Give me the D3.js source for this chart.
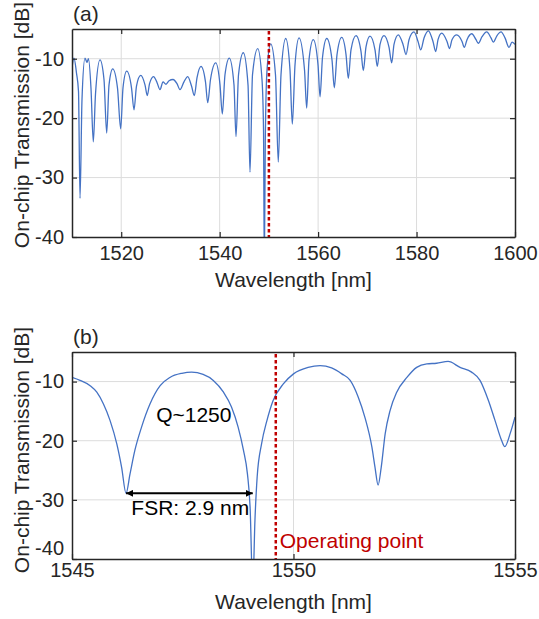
<!DOCTYPE html>
<html>
<head>
<meta charset="utf-8">
<script src="https://cdn.jsdelivr.net/npm/d3@7"></script>
<style>
    body { margin: 0; background: #ffffff; }
    text { font-family: 'Liberation Sans', Arial, Helvetica, sans-serif; }
</style>
</head>
<body>
<div id="container"></div>
<script>
// ---- panel (a): broadband spectrum ----
const wlA = [1510.00, 1510.41, 1510.91, 1511.32, 1511.63, 1512.03, 1512.64, 1513.05, 1513.35, 1513.86,
    1514.33, 1514.77, 1515.69, 1516.50, 1517.05, 1517.52, 1518.27, 1519.24, 1519.89, 1520.36,
    1521.11, 1522.09, 1522.60, 1523.10, 1523.96, 1524.83, 1525.30, 1525.75, 1526.56, 1527.27,
    1527.88, 1528.49, 1529.10, 1529.71, 1530.52, 1531.33, 1531.94, 1532.75, 1533.51, 1534.28,
    1534.85, 1535.40, 1536.21, 1537.12, 1537.57, 1538.14, 1539.20, 1540.07, 1540.54, 1541.08,
    1541.96, 1542.91, 1543.32, 1543.83, 1544.80, 1545.76, 1546.16, 1546.67, 1547.73, 1548.60,
    1548.91, 1549.07, 1549.27, 1549.62, 1550.37, 1551.34, 1551.91, 1552.46, 1553.42, 1554.29,
    1554.76, 1555.31, 1556.12, 1557.24, 1557.68, 1558.15, 1559.02, 1559.98, 1560.39, 1560.89,
    1561.75, 1562.82, 1563.29, 1563.84, 1564.80, 1565.67, 1566.14, 1566.68, 1567.70, 1568.72,
    1569.18, 1569.73, 1570.54, 1571.56, 1572.03, 1572.58, 1573.39, 1574.41, 1574.95, 1575.42,
    1576.29, 1577.25, 1577.86, 1578.47, 1579.48, 1580.30, 1580.85, 1581.52, 1582.39, 1583.34,
    1583.89, 1584.36, 1585.11, 1586.19, 1586.70, 1587.20, 1588.16, 1589.24, 1589.70, 1590.25,
    1591.21, 1592.08, 1592.55, 1593.30, 1594.25, 1595.13, 1595.60, 1596.35, 1597.16, 1597.97,
    1598.79, 1599.40, 1600.00];
const tA = [-11.5, -9.9, -12.4, -15.5, -33.5, -16.9, -9.9, -10.6, -10.0, -15.0,
    -24.0, -16.0, -10.2, -13.5, -22.5, -14.4, -11.7, -14.9, -21.8, -14.9,
    -12.1, -14.9, -18.6, -14.6, -12.8, -14.4, -16.2, -14.2, -13.0, -14.0,
    -15.2, -13.9, -14.3, -13.7, -13.5, -14.2, -15.2, -13.9, -13.0, -14.6,
    -16.2, -13.2, -11.3, -13.9, -17.4, -13.5, -10.7, -14.4, -19.3, -12.7,
    -9.9, -14.4, -23.1, -12.7, -9.0, -14.4, -29.1, -12.7, -8.3, -13.5,
    -22.0, -45.0, -23.7, -11.9, -7.5, -12.7, -27.4, -12.7, -6.6, -11.9,
    -21.0, -11.0, -6.5, -11.9, -18.3, -10.2, -6.8, -11.0, -16.4, -9.8,
    -6.6, -10.2, -14.9, -9.3, -6.4, -9.3, -13.3, -8.5, -6.1, -8.8,
    -12.0, -8.0, -6.2, -8.5, -11.3, -7.6, -6.1, -8.1, -10.7, -7.6,
    -6.0, -7.6, -9.3, -6.8, -5.5, -7.1, -8.5, -6.5, -5.3, -7.1,
    -8.8, -6.8, -5.7, -7.1, -8.3, -6.8, -6.0, -7.1, -8.1, -6.8,
    -5.8, -6.8, -7.4, -6.3, -5.5, -6.5, -7.2, -6.1, -5.5, -6.5,
    -8.1, -7.2, -7.6];

// ---- panel (b): zoom around the operating point ----
const wlB = [1545.00, 1545.18, 1545.41, 1545.56, 1545.71, 1545.86, 1546.01, 1546.12, 1546.22, 1546.31,
    1546.42, 1546.57, 1546.76, 1546.99, 1547.21, 1547.48, 1547.70, 1547.96, 1548.19, 1548.42,
    1548.60, 1548.75, 1548.87, 1548.96, 1549.02, 1549.08, 1549.13, 1549.18, 1549.28, 1549.40,
    1549.54, 1549.77, 1550.00, 1550.33, 1550.60, 1550.86, 1551.09, 1551.28, 1551.46, 1551.61,
    1551.77, 1551.84, 1551.91, 1551.98, 1552.07, 1552.18, 1552.33, 1552.56, 1552.78, 1553.01,
    1553.23, 1553.49, 1553.76, 1554.02, 1554.21, 1554.40, 1554.55, 1554.70, 1554.77, 1554.89,
    1555.00];
const tB = [-9.3, -9.8, -10.7, -11.8, -13.8, -16.6, -20.5, -24.5, -28.9, -25.6,
    -21.6, -17.7, -13.8, -10.7, -9.3, -8.6, -8.4, -8.8, -9.8, -11.8,
    -14.3, -17.7, -21.6, -25.6, -31.2, -45.0, -33.4, -26.1, -20.5, -16.6,
    -13.2, -10.4, -8.7, -7.6, -7.3, -7.7, -8.7, -9.8, -12.6, -16.0,
    -21.1, -24.5, -27.5, -24.5, -18.8, -14.9, -11.8, -9.3, -7.6, -7.0,
    -6.9, -6.6, -7.6, -8.4, -9.8, -13.2, -16.6, -20.0, -21.0, -18.8,
    -16.0];

const yTicks = [-40, -30, -20, -10];
const xTicksA = [1520, 1540, 1560, 1580, 1600];
const xTicksB = [1545, 1550, 1555];
const opA = 1550;      // operating point, panel (a)
const opB = 1549.6;    // operating point, panel (b)
const fsrStart = 1546.22, fsrEnd = 1549.08, fsrLevel = -28.9;

const W = 539, H = 619;
const svg = d3.select('#container')
    .append('svg')
    .attr('width', W)
    .attr('height', H)
    .style('background-color', '#ffffff');

const defs = svg.append('defs');
['start', 'end'].forEach(kind => {
    defs.append('marker')
        .attr('id', 'arrow-' + kind)
        .attr('viewBox', '0 0 10 10')
        .attr('refX', kind === 'end' ? 10 : 0)
        .attr('refY', 5)
        .attr('markerWidth', 7)
        .attr('markerHeight', 7)
        .attr('markerUnits', 'userSpaceOnUse')
        .attr('orient', 'auto')
        .append('path')
        .attr('d', kind === 'end' ? 'M0,0 L10,5 L0,10 z' : 'M10,0 L0,5 L10,10 z')
        .attr('fill', '#000000');
});

const textColor = '#262626';
const lineColor = '#4472c4';
const opColor = '#c00000';

function drawPanel(p) {
    const x = d3.scaleLinear().domain(p.xDomain).range([p.left, p.right]);
    const y = d3.scaleLinear().domain([-40, -5]).range([p.bottom, p.top]);
    const g = svg.append('g');

    defs.append('clipPath').attr('id', 'clip-' + p.id)
        .append('rect')
        .attr('x', p.left).attr('y', p.top)
        .attr('width', p.right - p.left).attr('height', p.bottom - p.top);

    // grid
    g.selectAll('.gx').data(p.xTicks.filter(t => t !== p.xDomain[0] && t !== p.xDomain[1]))
        .join('line')
        .attr('x1', d => x(d)).attr('x2', d => x(d))
        .attr('y1', p.top).attr('y2', p.bottom)
        .attr('stroke', '#dcdcdc').attr('stroke-width', 1);
    g.selectAll('.gy').data(yTicks.filter(t => t > -40))
        .join('line')
        .attr('x1', p.left).attr('x2', p.right)
        .attr('y1', d => y(d)).attr('y2', d => y(d))
        .attr('stroke', '#dcdcdc').attr('stroke-width', 1);

    // spectrum
    const line = d3.line()
        .x((d, i) => x(p.wl[i]))
        .y(d => y(d))
        .curve(d3.curveMonotoneX);
    g.append('path')
        .datum(p.t)
        .attr('clip-path', `url(#clip-${p.id})`)
        .attr('d', line)
        .attr('fill', 'none')
        .attr('stroke', lineColor)
        .attr('stroke-width', 1.3);

    // operating point
    g.append('line')
        .attr('x1', x(p.op)).attr('x2', x(p.op))
        .attr('y1', p.top + 2).attr('y2', p.bottom)
        .attr('stroke', opColor)
        .attr('stroke-width', 2.5)
        .attr('stroke-dasharray', '3.5,2.5');

    // box with inward ticks (MATLAB style), plain hyphen minus in labels
    const fmt = d => String(d);
    const axB = g.append('g').attr('transform', `translate(0,${p.bottom})`)
        .call(d3.axisBottom(x).tickValues(p.xTicks).tickSizeInner(-5).tickSizeOuter(0).tickPadding(p.xPad).tickFormat(fmt));
    const axT = g.append('g').attr('transform', `translate(0,${p.top})`)
        .call(d3.axisTop(x).tickValues(p.xTicks).tickSizeInner(-5).tickSizeOuter(0).tickFormat(''));
    const axL = g.append('g').attr('transform', `translate(${p.left},0)`)
        .call(d3.axisLeft(y).tickValues(yTicks).tickSizeInner(-5).tickSizeOuter(0).tickPadding(8).tickFormat(fmt));
    const axR = g.append('g').attr('transform', `translate(${p.right},0)`)
        .call(d3.axisRight(y).tickValues(yTicks).tickSizeInner(-5).tickSizeOuter(0).tickFormat(''));
    [axB, axT, axL, axR].forEach(a => {
        a.select('.domain').attr('stroke', textColor).attr('stroke-width', 1.5);
        a.selectAll('.tick line').attr('stroke', textColor).attr('stroke-width', 1.2);
        a.selectAll('.tick text')
            .attr('fill', textColor)
            .style('font-size', '20px')
            .style('font-family', "'Liberation Sans', Arial, sans-serif");
    });
    // lift the bottom y label when the x labels sit right under the axis
    if (p.liftMin) {
        axL.selectAll('.tick text').filter(d => d === -40).attr('dy', '-0.25em');
    }

    // labels
    svg.append('text')
        .text(p.tag)
        .attr('x', p.left + 1).attr('y', p.top - 8)
        .attr('fill', textColor)
        .style('font-size', '21px');
    svg.append('text')
        .text('Wavelength [nm]')
        .attr('x', (p.left + p.right) / 2).attr('y', p.bottom + 50)
        .attr('text-anchor', 'middle')
        .attr('fill', textColor)
        .style('font-size', '21px');
    svg.append('text')
        .text('On-chip Transmission [dB]')
        .attr('transform', `translate(29,${p.yLabelMid}) rotate(-90)`)
        .attr('text-anchor', 'middle')
        .attr('fill', textColor)
        .style('font-size', '21px');

    return { x, y, g };
}

drawPanel({
    id: 'a', tag: '(a)', left: 72, right: 515, top: 29, bottom: 237,
    xDomain: [1510, 1600], xTicks: xTicksA, xPad: 9, wl: wlA, t: tA, op: opA, yLabelMid: 125
});

const b = drawPanel({
    id: 'b', tag: '(b)', left: 72, right: 515, top: 352, bottom: 559,
    xDomain: [1545, 1555], xTicks: xTicksB, xPad: 4, wl: wlB, t: tB, op: opB, yLabelMid: 450, liftMin: true
});

// annotations in (b)
b.g.append('line')
    .attr('x1', b.x(fsrStart)).attr('x2', b.x(fsrEnd))
    .attr('y1', b.y(fsrLevel)).attr('y2', b.y(fsrLevel))
    .attr('stroke', '#000000')
    .attr('stroke-width', 2)
    .attr('marker-start', 'url(#arrow-start)')
    .attr('marker-end', 'url(#arrow-end)');
b.g.append('text')
    .text('FSR: 2.9 nm')
    .attr('x', b.x(1547.67)).attr('y', b.y(-32.6))
    .attr('text-anchor', 'middle')
    .attr('fill', '#000000')
    .style('font-size', '21px');
b.g.append('text')
    .text('Q~1250')
    .attr('x', b.x(1547.75)).attr('y', b.y(-16.9))
    .attr('text-anchor', 'middle')
    .attr('fill', '#000000')
    .style('font-size', '21px');
b.g.append('text')
    .text('Operating point')
    .attr('x', b.x(opB) + 4).attr('y', b.y(-38.2))
    .attr('fill', opColor)
    .style('font-size', '21px');
</script>
</body>
</html>
